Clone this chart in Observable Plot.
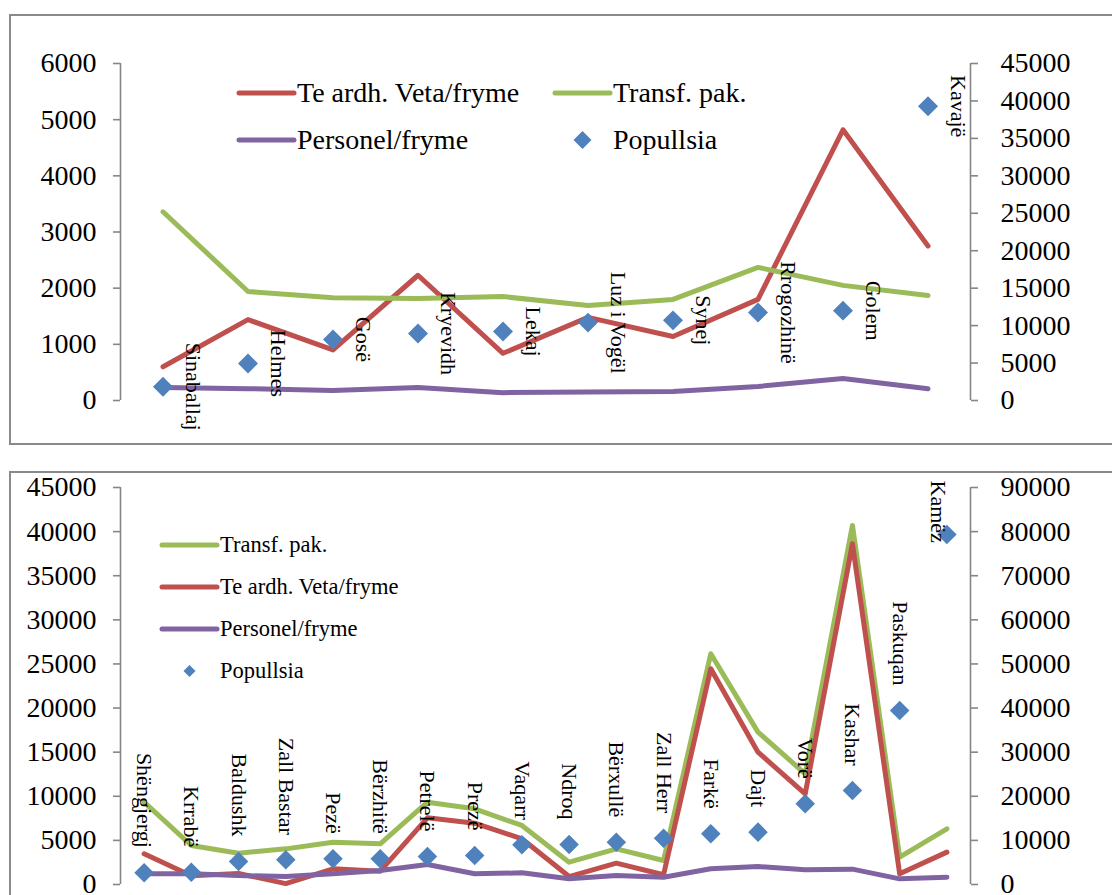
<!DOCTYPE html>
<html>
<head>
<meta charset="utf-8">
<script src="https://cdn.jsdelivr.net/npm/d3@7"></script>
<script src="https://cdn.jsdelivr.net/npm/@observablehq/plot@0.6"></script>
<style>
html, body { margin: 0; padding: 0; background: #fff; }
#root { position: relative; width: 1112px; height: 895px; overflow: hidden; font-family: "Liberation Serif", serif; background: #fff; }
.layer { position: absolute; left: 0; }
.layer text { font-family: "Liberation Serif", serif; }
.frame { position: absolute; border: 2px solid #8a8a8a; box-sizing: border-box; }
.leg { position: absolute; display: flex; align-items: center; white-space: nowrap; color: #000; height: 40px; }
.leg svg { display: block; flex: none; }
</style>
</head>
<body>
<div id="root"></div>
<script>
// ---------- Data: top chart ----------
const names1 = ["Sinaballaj", "Helmes", "Gosë", "Kryevidh", "Lekaj", "Luz i Vogël", "Synej", "Rrogozhinë", "Golem", "Kavajë"];
const teArdh1 = [600, 1440, 900, 2230, 840, 1480, 1140, 1800, 4820, 2750];
const transf1 = [3360, 1940, 1830, 1815, 1850, 1690, 1800, 2370, 2050, 1870];
const personel1 = [230, 210, 180, 230, 140, 150, 160, 250, 390, 210];
const pop1 = [1850, 4950, 8150, 8950, 9200, 10400, 10700, 11750, 12000, 39300];
const leftTicks1 = [0, 1000, 2000, 3000, 4000, 5000, 6000];
const rightTicks1 = [0, 5000, 10000, 15000, 20000, 25000, 30000, 35000, 40000, 45000];

// ---------- Data: bottom chart ----------
const names2 = ["Shëngjergj", "Krrabë", "Baldushk", "Zall Bastar", "Pezë", "Bërzhitë", "Petrelë", "Prezë", "Vaqarr", "Ndroq", "Bërxullë", "Zall Herr", "Farkë", "Dajt", "Vorë", "Kashar", "Paskuqan", "Kamëz"];
const transf2 = [9330, 4420, 3550, 4040, 4800, 4610, 9330, 8580, 6690, 2530, 4040, 2720, 26150, 17270, 12550, 40700, 3100, 6310];
const teArdh2 = [3480, 1000, 1250, 100, 1780, 1510, 7560, 6950, 5180, 900, 2420, 1100, 24450, 15000, 10280, 38620, 1210, 3670];
const personel2 = [1210, 1210, 1020, 900, 1210, 1590, 2270, 1210, 1320, 640, 1020, 830, 1780, 2040, 1660, 1740, 640, 830];
const pop2 = [2650, 2800, 5210, 5590, 5820, 5820, 6350, 6570, 9000, 9070, 9600, 10500, 11490, 11870, 18290, 21310, 39450, 79350];
const leftTicks2 = [0, 5000, 10000, 15000, 20000, 25000, 30000, 35000, 40000, 45000];
const rightTicks2 = [0, 10000, 20000, 30000, 40000, 50000, 60000, 70000, 80000, 90000];
const clampedLabels2 = ["Kamëz"];

// ---------- Legend labels ----------
const legendTop = ["Te ardh. Veta/fryme", "Transf. pak.", "Personel/fryme", "Popullsia"];
const legendBottom = ["Transf. pak.", "Te ardh. Veta/fryme", "Personel/fryme", "Popullsia"];

const COL = { red: "#C0504D", green: "#9BBB59", purple: "#8064A2", blue: "#4F81BD", axis: "#868686" };
const FONT = '"Liberation Serif", serif';

const rows = (names, vals) => names.map((name, i) => ({ name, pos: i + 0.5, v: vals[i] }));

const root = document.getElementById("root");

function addFrame(left, top, w, h) {
  const d = document.createElement("div");
  d.className = "frame";
  Object.assign(d.style, { left: left + "px", top: top + "px", width: w + "px", height: h + "px" });
  root.appendChild(d);
}

function addLayer(svg, top) {
  svg.classList.add("layer");
  svg.style.top = top + "px";
  root.appendChild(svg);
}

function baseChart({ names, series, H, mt, mb, domain, ticks }) {
  const n = names.length;
  return Plot.plot({
    width: 1112, height: H,
    marginTop: mt, marginBottom: mb, marginLeft: 120, marginRight: 142,
    style: { background: "transparent", fontFamily: FONT, fontSize: "28px", color: "#000", overflow: "visible" },
    x: { type: "linear", domain: [0, n], axis: null },
    y: { domain },
    marks: [
      Plot.ruleX([0], { stroke: COL.axis, strokeWidth: 1.6 }),
      Plot.axisY({ ticks, tickSize: 7, tickPadding: 17, stroke: COL.axis, strokeWidth: 1.6, fill: "#000", fontSize: 28, fontFamily: FONT, label: null, tickFormat: d3.format("d") }),
      ...series.map(s => Plot.line(rows(names, s.values), {
        x: "pos", y: "v", stroke: s.color, strokeWidth: 5, strokeLinecap: "round", strokeLinejoin: "round"
      }))
    ]
  });
}

function overlayChart({ names, pop, H, mt, mb, domain, ticks, r, labelMarks }) {
  const n = names.length;
  return Plot.plot({
    width: 1112, height: H,
    marginTop: mt, marginBottom: mb, marginLeft: 120, marginRight: 142,
    style: { background: "transparent", fontFamily: FONT, fontSize: "28px", color: "#000", overflow: "visible" },
    x: { type: "linear", domain: [0, n], axis: null },
    y: { domain },
    marks: [
      Plot.ruleX([n], { stroke: COL.axis, strokeWidth: 1.6 }),
      Plot.axisY({ anchor: "right", ticks, tickSize: 7, tickPadding: 23, stroke: COL.axis, strokeWidth: 1.6, fill: "#000", fontSize: 28, fontFamily: FONT, label: null, tickFormat: d3.format("d") }),
      Plot.dot(rows(names, pop), { x: "pos", y: "v", symbol: "diamond2", r, fill: COL.blue, stroke: "none" }),
      ...labelMarks(rows(names, pop))
    ]
  });
}

function addLegend(items, fontSize, swLen) {
  for (const it of items) {
    const d = document.createElement("div");
    d.className = "leg";
    d.style.left = it.x + "px";
    d.style.top = (it.y - 20) + "px";
    d.style.fontSize = fontSize + "px";
    let sw;
    if (it.type === "line") {
      sw = `<svg width="${swLen + 6}" height="40"><line x1="3" y1="20" x2="${swLen + 3}" y2="20" stroke="${it.color}" stroke-width="5" stroke-linecap="round"/></svg>`;
    } else {
      const s = it.size;
      const c = (swLen + 6) / 2;
      sw = `<svg width="${swLen + 6}" height="40"><polygon points="${c},${20 - s} ${c + s},20 ${c},${20 + s} ${c - s},20" fill="${COL.blue}"/></svg>`;
    }
    d.innerHTML = sw + `<span style="margin-left:${it.gap}px;line-height:40px">${it.label}</span>`;
    root.appendChild(d);
  }
}

// ---------- Frames ----------
addFrame(9, 14, 1200, 431);
addFrame(9, 471, 1200, 500);

// ---------- Top chart ----------
const H1 = 450;
addLayer(baseChart({
  names: names1,
  series: [
    { values: teArdh1, color: COL.red },
    { values: transf1, color: COL.green },
    { values: personel1, color: COL.purple }
  ],
  H: H1, mt: 63, mb: H1 - 400, domain: [0, 6000], ticks: leftTicks1
}), 0);
addLayer(overlayChart({
  names: names1, pop: pop1, H: H1, mt: 63, mb: H1 - 400, domain: [0, 45000], ticks: rightTicks1, r: 9,
  labelMarks: data => [
    Plot.text(data, { x: "pos", y: "v", text: "name", rotate: 90, dx: 30, fontSize: 22, fontFamily: FONT, fill: "#000" })
  ]
}), 0);

// ---------- Bottom chart ----------
const H2 = 435, T2 = 460;
addLayer(baseChart({
  names: names2,
  series: [
    { values: transf2, color: COL.green },
    { values: teArdh2, color: COL.red },
    { values: personel2, color: COL.purple }
  ],
  H: H2, mt: 27, mb: 11, domain: [0, 45000], ticks: leftTicks2
}), T2);
addLayer(overlayChart({
  names: names2, pop: pop2, H: H2, mt: 27, mb: 11, domain: [0, 90000], ticks: rightTicks2, r: 8.8,
  labelMarks: data => [
    Plot.text(data.filter(d => !clampedLabels2.includes(d.name)), { x: "pos", y: "v", text: "name", rotate: 90, textAnchor: "end", dy: -25, fontSize: 22, fontFamily: FONT, fill: "#000" }),
    Plot.text(data.filter(d => clampedLabels2.includes(d.name)), { x: "pos", frameAnchor: "top", text: "name", rotate: 90, textAnchor: "start", dy: -7, fontSize: 22, fontFamily: FONT, fill: "#000" })
  ]
}), T2);

// ---------- Legends ----------
addLegend([
  { type: "line", color: COL.red, label: legendTop[0], x: 236, y: 93, gap: 0 },
  { type: "line", color: COL.green, label: legendTop[1], x: 552, y: 93, gap: 0 },
  { type: "line", color: COL.purple, label: legendTop[2], x: 236, y: 140, gap: 0 },
  { type: "diamond", size: 9, label: legendTop[3], x: 552, y: 140, gap: 0 }
], 28, 55);

addLegend([
  { type: "line", color: COL.green, label: legendBottom[0], x: 159, y: 545, gap: 0 },
  { type: "line", color: COL.red, label: legendBottom[1], x: 159, y: 587, gap: 0 },
  { type: "line", color: COL.purple, label: legendBottom[2], x: 159, y: 629, gap: 0 },
  { type: "diamond", size: 6, label: legendBottom[3], x: 159, y: 671, gap: 0 }
], 22.5, 55);
</script>
</body>
</html>
